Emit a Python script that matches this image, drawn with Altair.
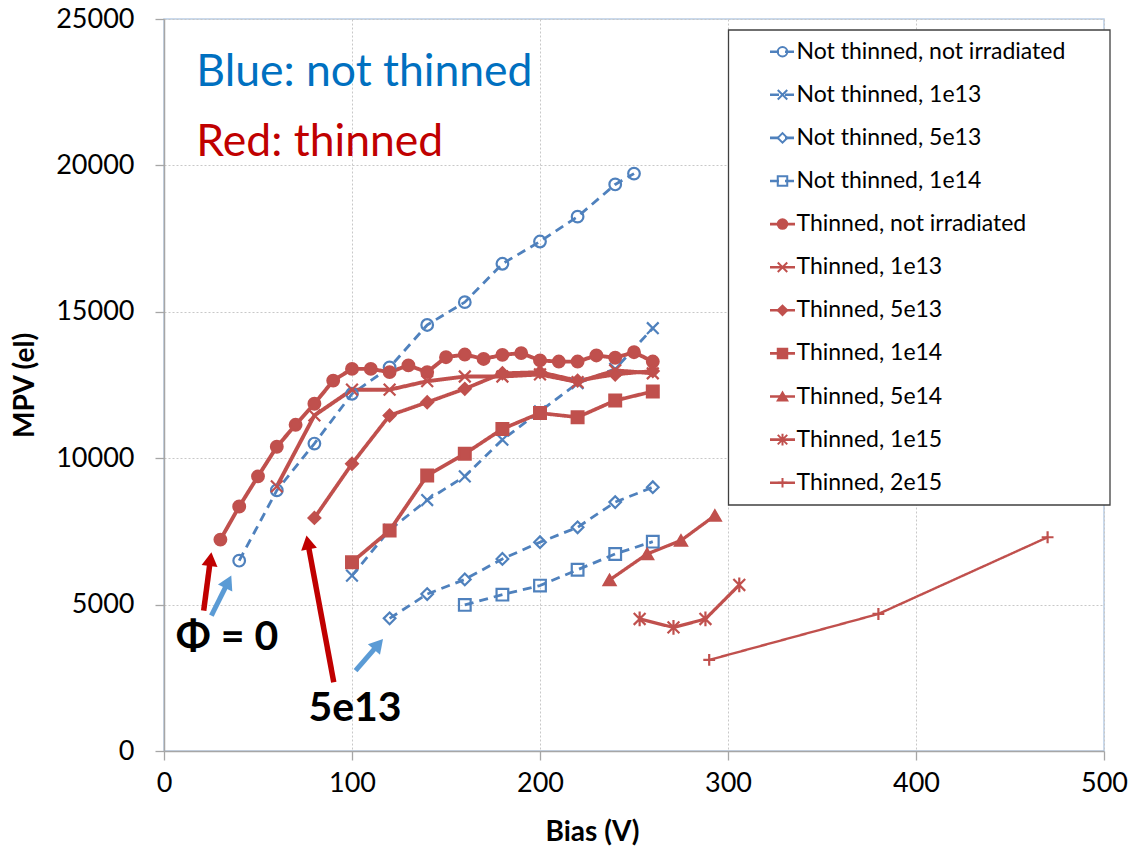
import math
import altair as alt
import pandas as pd

# ---------------- data ----------------
series_names = [
    "Not thinned, not irradiated", "Not thinned, 1e13", "Not thinned, 5e13", "Not thinned, 1e14",
    "Thinned, not irradiated", "Thinned, 1e13", "Thinned, 5e13", "Thinned, 1e14",
    "Thinned, 5e14", "Thinned, 1e15", "Thinned, 2e15",
]

bias_nt_0 = [40, 60, 80, 100, 120, 140, 160, 180, 200, 220, 240, 250]
mpv_nt_0 = [6500, 8900, 10500, 12200, 13100, 14550, 15330, 16640, 17400, 18250, 19350, 19720]

bias_nt_1e13 = [100, 120, 140, 160, 180, 200, 220, 240, 260]
mpv_nt_1e13 = [5990, 7550, 8570, 9380, 10630, 11600, 12560, 13050, 14440]

bias_nt_5e13 = [120, 140, 160, 180, 200, 220, 240, 260]
mpv_nt_5e13 = [4530, 5360, 5860, 6560, 7130, 7640, 8500, 9010]

bias_nt_1e14 = [160, 180, 200, 220, 240, 260]
mpv_nt_1e14 = [4990, 5340, 5650, 6190, 6730, 7150]

bias_t_0 = [30, 40, 50, 60, 70, 80, 90, 100, 110, 120, 130, 140, 150, 160, 170, 180,
            190, 200, 210, 220, 230, 240, 250, 260]
mpv_t_0 = [7220, 8350, 9380, 10390, 11140, 11860, 12650, 13050, 13050, 12940, 13170, 12940,
           13450, 13540, 13390, 13530, 13590, 13340, 13300, 13300, 13510, 13430, 13620, 13300]

bias_t_1e13 = [60, 80, 100, 120, 140, 160, 180, 200, 220, 240, 260]
mpv_t_1e13 = [9040, 11460, 12340, 12340, 12630, 12790, 12790, 12860, 12600, 13000, 12900]

bias_t_5e13 = [80, 100, 120, 140, 160, 180, 200, 220, 240, 260]
mpv_t_5e13 = [7960, 9810, 11460, 11910, 12370, 12900, 12940, 12650, 12860, 12980]

bias_t_1e14 = [100, 120, 140, 160, 180, 200, 220, 240, 260]
mpv_t_1e14 = [6450, 7530, 9410, 10150, 11000, 11540, 11400, 11970, 12280]

bias_t_5e14 = [237, 257, 275, 293]
mpv_t_5e14 = [5840, 6730, 7190, 8040]

bias_t_1e15 = [253, 271, 288, 306]
mpv_t_1e15 = [4510, 4220, 4510, 5670]

bias_t_2e15 = [290, 380, 470]
mpv_t_2e15 = [3110, 4680, 7300]

all_bias = [bias_nt_0, bias_nt_1e13, bias_nt_5e13, bias_nt_1e14, bias_t_0, bias_t_1e13,
            bias_t_5e13, bias_t_1e14, bias_t_5e14, bias_t_1e15, bias_t_2e15]
all_mpv = [mpv_nt_0, mpv_nt_1e13, mpv_nt_5e13, mpv_nt_1e14, mpv_t_0, mpv_t_1e13,
           mpv_t_5e13, mpv_t_1e14, mpv_t_5e14, mpv_t_1e15, mpv_t_2e15]

x_ticks = [0, 100, 200, 300, 400, 500]
y_ticks = [0, 5000, 10000, 15000, 20000, 25000]

# annotations (data units)
note_texts = ["Blue: not thinned", "Red: thinned"]
note_colors = ["#0070C0", "#C00000"]
note_x = [17.2, 17.2]
note_y = [23150, 20770]

big_texts = ["\u03a6 = 0", "5e13"]
big_x = [33.5, 101.6]
big_y = [3860, 1430]

arrow_x0 = [21.1, 25.2, 90.3, 101.9]
arrow_y0 = [4794, 4623, 2344, 2744]
arrow_x1 = [25.2, 35.8, 75.8, 116.5]
arrow_y1 = [6786, 5990, 7357, 3827]
arrow_colors = ["#C00000", "#5B9BD5", "#C00000", "#5B9BD5"]
arrow_widths = [5.5, 5, 5.5, 5]

# ---------------- styles ----------------
BLUE = "#4F81BD"
RED = "#C0504D"
X_PATH = "M-1,-1L1,1M-1,1L1,-1"
AST_PATH = "M-1,-1L1,1M-1,1L1,-1M0,-1.25L0,1.25"
PLUS_PATH = "M-1,0L1,0M0,-1L0,1"

colors = [BLUE] * 4 + [RED] * 7
dashes = [[9, 6]] * 4 + [[1, 0]] * 7
line_widths = [2.8, 2.8, 2.8, 2.8, 3.9, 3.9, 3.7, 3.7, 3.3, 3.3, 2.4]
shapes = ["circle", X_PATH, "diamond", "square", "circle", X_PATH, "diamond", "square",
          "triangle-up", AST_PATH, PLUS_PATH]
fills = ["transparent"] * 4 + [RED] * 7
sizes = [135, 140, 120, 140, 200, 180, 260, 200, 240, 180, 190]

rows = []
for name, bs, ms in zip(series_names, all_bias, all_mpv):
    for b, m in zip(bs, ms):
        rows.append({"series": name, "bias": b, "mpv": m})
df = pd.DataFrame(rows)

FONT = "Lato"
XS = alt.Scale(domain=[0, 500], nice=False, zero=False)
YS = alt.Scale(domain=[0, 25000], nice=False, zero=False)
XA = alt.Axis(values=x_ticks, title="Bias (V)", format="d", tickSize=9, labelPadding=10,
              labelFlush=False, labelOverlap=False, titleX=428, titleY=81,
              titleBaseline="middle", titleAlign="center", titleFontSize=28)
YA = alt.Axis(values=y_ticks, title="MPV (el)", format="d", tickSize=9, labelPadding=21,
              labelFlush=False, labelOverlap=False, titleX=-139, titleY=366,
              titleBaseline="middle", titleAlign="center", titleFontSize=28)

COLOR_S = alt.Scale(domain=series_names, range=colors)
DASH_S = alt.Scale(domain=series_names, range=dashes)
SHAPE_S = alt.Scale(domain=series_names, range=shapes)
FILL_S = alt.Scale(domain=series_names, range=fills)
SIZE_S = alt.Scale(domain=series_names, range=sizes)


def X(f):
    return alt.X(f, type="quantitative", scale=XS, axis=XA)


def Y(f):
    return alt.Y(f, type="quantitative", scale=YS, axis=YA)


line_layers = []
for name, c, d, w in zip(series_names, colors, dashes, line_widths):
    line_layers.append(
        alt.Chart(df[df["series"] == name]).mark_line(
            color=c, strokeDash=d, strokeWidth=w, strokeCap="butt", strokeJoin="round"
        ).encode(x=X("bias"), y=Y("mpv"))
    )

points = alt.Chart(df).mark_point(filled=False, opacity=1, strokeWidth=2.2).encode(
    x=X("bias"), y=Y("mpv"),
    color=alt.Color("series:N", scale=COLOR_S, legend=None),
    fill=alt.Fill("series:N", scale=FILL_S, legend=None),
    shape=alt.Shape("series:N", scale=SHAPE_S, legend=None),
    size=alt.Size("series:N", scale=SIZE_S, legend=None),
)

# ---------------- legend (layout in pixels of the plot area -> data units) ----------------
PW, PH = 940, 732


def vx(px):
    return px / PW * 500


def vy(py):
    return (PH - py) / PH * 25000


box_df = pd.DataFrame([{"x0": vx(564.5), "x1": vx(946), "y0": vy(11), "y1": vy(486)}])
legend_box = alt.Chart(box_df).mark_rect(fill="white", stroke="#404040", strokeWidth=1.3).encode(
    x=X("x0"), x2="x1", y=Y("y0"), y2="y1"
)

leg_rows = []
for i, name in enumerate(series_names):
    py = 32.7 + 43.1 * i
    leg_rows.append({"series": name, "lx0": vx(606), "lx1": vx(631), "lxm": vx(618.5),
                     "tx": vx(632.5), "ly": vy(py)})
leg_df = pd.DataFrame(leg_rows)

leg_lines = alt.Chart(leg_df).mark_rule(strokeWidth=2.6).encode(
    x=X("lx0"), x2="lx1", y=Y("ly"),
    color=alt.Color("series:N", scale=COLOR_S, legend=None),
    strokeDash=alt.StrokeDash("series:N", scale=DASH_S, legend=None),
)
leg_points = alt.Chart(leg_df).mark_point(filled=False, opacity=1, strokeWidth=2, size=90).encode(
    x=X("lxm"), y=Y("ly"),
    color=alt.Color("series:N", scale=COLOR_S, legend=None),
    fill=alt.Fill("series:N", scale=FILL_S, legend=None),
    shape=alt.Shape("series:N", scale=SHAPE_S, legend=None),
)
leg_text = alt.Chart(leg_df).mark_text(align="left", baseline="middle", fontSize=23,
                                       font=FONT, color="black").encode(
    x=X("tx"), y=Y("ly"), text="series:N"
)

# ---------------- annotations ----------------
notes_df = pd.DataFrame({"t": note_texts, "c": note_colors, "x": note_x, "y": note_y})
note_layers = []
for _, r in notes_df.iterrows():
    note_layers.append(
        alt.Chart(pd.DataFrame([r])).mark_text(align="left", baseline="middle", fontSize=44.5,
                                               font=FONT, color=r["c"]).encode(
            x=X("x"), y=Y("y"), text="t:N")
    )

big_df = pd.DataFrame({"t": big_texts, "x": big_x, "y": big_y})
big_text = alt.Chart(big_df).mark_text(align="center", baseline="middle", fontSize=41,
                                       font=FONT, fontWeight="bold", color="black").encode(
    x=X("x"), y=Y("y"), text="t:N"
)

kx = PW / 500
ky = PH / 25000
arrow_rows = []
R_HEAD = 8.0
H_HALF = math.sqrt(3) * R_HEAD / 2
for x0, y0, x1, y1, c, w in zip(arrow_x0, arrow_y0, arrow_x1, arrow_y1, arrow_colors, arrow_widths):
    dxp = (x1 - x0) * kx
    dyp = -(y1 - y0) * ky
    L = math.hypot(dxp, dyp)
    ux, uy = dxp / L, dyp / L
    ang = math.degrees(math.atan2(ux, -uy)) % 360
    hx = x1 - H_HALF * ux / kx
    hy = y1 + H_HALF * uy / ky
    ex = x1 - 1.7 * H_HALF * ux / kx
    ey = y1 + 1.7 * H_HALF * uy / ky
    arrow_rows.append({"x0": x0, "y0": y0, "ex": ex, "ey": ey, "hx": hx, "hy": hy,
                       "ang": ang, "c": c, "w": w})
arr_df = pd.DataFrame(arrow_rows)

arrow_layers = []
for c in ["#C00000", "#5B9BD5"]:
    sub = arr_df[arr_df["c"] == c]
    w = float(sub["w"].iloc[0])
    arrow_layers.append(
        alt.Chart(sub).mark_rule(color=c, strokeWidth=w, strokeCap="butt").encode(
            x=X("x0"), y=Y("y0"), x2="ex", y2="ey")
    )
    arrow_layers.append(
        alt.Chart(sub).mark_point(shape="triangle-up", filled=True, color=c, opacity=1,
                                  size=(2 * R_HEAD) ** 2).encode(
            x=X("hx"), y=Y("hy"), angle=alt.Angle("ang:Q", scale=None))
    )

chart = alt.layer(
    *line_layers, points, legend_box, leg_lines, leg_points, leg_text,
    *note_layers, big_text, *arrow_layers
).properties(
    width=PW, height=PH,
    autosize=alt.AutoSizeParams(type="none"),
    padding={"left": 164, "top": 19, "right": 31, "bottom": 98},
    background="white",
).configure_view(
    stroke="#B9CDE5", strokeWidth=1.5
).configure_axis(
    labelFont=FONT, labelFontSize=27, labelColor="black",
    titleFont=FONT, titleFontSize=24, titleFontWeight="bold", titleColor="black",
    tickColor="#A6A6A6", tickWidth=1.3, domainColor="#A6A6A6", domainWidth=1.5,
    gridColor="#C8C8C8", gridDash=[2, 2], gridWidth=1,
)

chart.save("out.html", embed_options={"renderer": "svg", "actions": False})
